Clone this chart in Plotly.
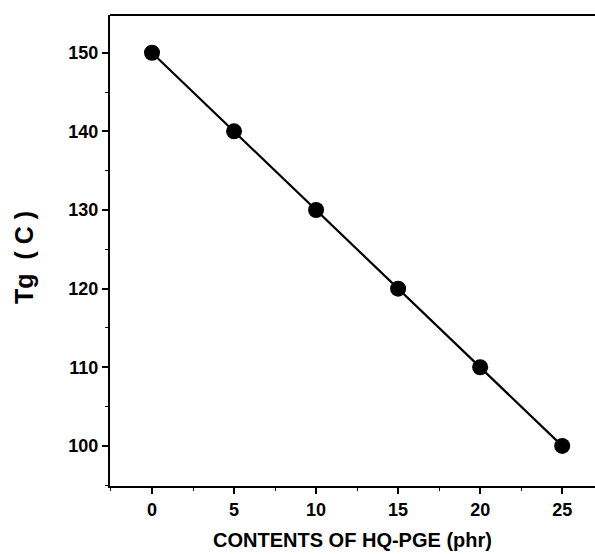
import plotly.graph_objects as go

contents = [0, 5, 10, 15, 20, 25]
tg = [150, 140, 130, 120, 110, 100]
x_ticks = [0, 5, 10, 15, 20, 25]
y_ticks = [100, 110, 120, 130, 140, 150]

fig = go.Figure()
fig.add_trace(go.Scatter(
    x=contents, y=tg, mode="lines+markers",
    line=dict(color="black", width=2.2),
    marker=dict(color="black", size=16),
    showlegend=False,
))

font = "Liberation Sans"
fig.update_layout(
    width=595, height=554,
    margin=dict(l=110, r=0, t=15, b=68),
    paper_bgcolor="white", plot_bgcolor="white",
    font=dict(family=font, color="black"),
    shapes=[dict(type="line", xref="paper", yref="paper", x0=0, x1=1, y0=1, y1=1,
                 line=dict(color="black", width=2))],
)
fig.update_xaxes(
    range=[-2.56, 27.0], tickvals=x_ticks, ticktext=[f"<b>{v}</b>" for v in x_ticks],
    tickfont=dict(size=18, family=font), showgrid=False, zeroline=False,
    showline=True, linecolor="black", linewidth=2, mirror=False,
    ticks="outside", ticklen=6, tickwidth=1.5, tickcolor="black",
    minor=dict(ticks="outside", ticklen=3, tickwidth=1.2, tickcolor="black", dtick=2.5, tick0=0),
    title=dict(text="<b>CONTENTS OF HQ-PGE (phr)</b>",
               font=dict(size=20, family=font), standoff=14),
)
fig.update_yaxes(
    range=[94.9, 154.8], tickvals=y_ticks, ticktext=[f"<b>{v}</b>" for v in y_ticks],
    tickfont=dict(size=18, family=font), showgrid=False, zeroline=False,
    showline=True, linecolor="black", linewidth=2, mirror=False,
    ticks="outside", ticklen=6, tickwidth=1.5, tickcolor="black",
    minor=dict(ticks="outside", ticklen=3, tickwidth=1.2, tickcolor="black", dtick=5, tick0=100),
    title=dict(text="<b>Tg&nbsp; (&nbsp;C&nbsp;)&nbsp;&nbsp;</b>", font=dict(size=25, family=font), standoff=28),
)
fig.write_html("out.html")
